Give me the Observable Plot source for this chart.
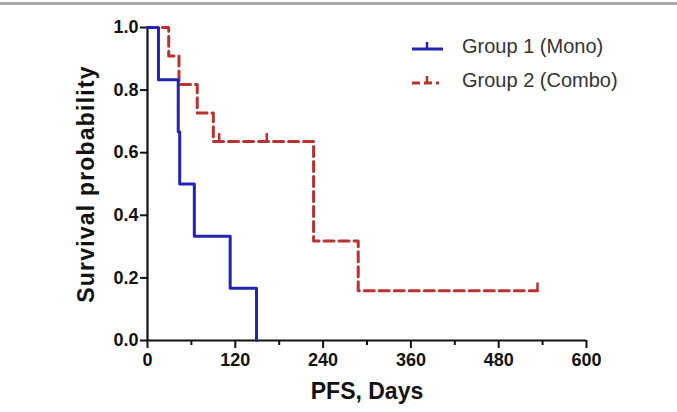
<!DOCTYPE html>
<html>
<head>
<meta charset="utf-8">
<script src="https://cdn.jsdelivr.net/npm/d3@7"></script>
<script src="https://cdn.jsdelivr.net/npm/@observablehq/plot@0.6"></script>
<style>
  html, body { margin: 0; padding: 0; background: #fff; }
  #wrap { position: relative; width: 677px; height: 412px; overflow: hidden; font-family: "Liberation Sans", Arial, sans-serif; }
  #topline { position: absolute; left: 0; top: 2px; width: 677px; height: 3px; background: #a9a9a9; }
  #legend { position: absolute; left: 410px; top: 29px; }
  .row { display: flex; align-items: center; height: 34px; }
  .row span { font-size: 20px; color: #333; margin-left: 18px; }
</style>
</head>
<body>
<div id="wrap">
  <div id="topline"></div>
  <div id="chart"></div>
  <div id="legend"></div>
</div>
<script>
// Group 1 (Mono) Kaplan–Meier steps
const g1Days = [0, 15, 42, 44, 64, 113, 149];
const g1Surv = [1.0, 0.833, 0.667, 0.5, 0.333, 0.167, 0.0];
// Group 2 (Combo) Kaplan–Meier steps
const g2Days = [0, 29, 43, 68, 90, 227, 288, 533];
const g2Surv = [1.0, 0.909, 0.818, 0.727, 0.636, 0.318, 0.159, 0.159];
// Group 2 censoring marks
const g2CensorDays = [98, 163, 533];
const g2CensorSurv = [0.636, 0.636, 0.159];

const seriesNames = ["Group 1 (Mono)", "Group 2 (Combo)"];
const xTicks = [0, 120, 240, 360, 480, 600];
const xMinorTicks = [60, 180, 300, 420, 540];
const yTicks = [0, 0.2, 0.4, 0.6, 0.8, 1.0];
const xLabel = "PFS, Days";
const yLabel = "Survival probability";

const BLUE = "#2424b4";
const RED = "#b83232";

const g1 = g1Days.map((t, i) => ({t, s: g1Surv[i]}));
const g2 = g2Days.map((t, i) => ({t, s: g2Surv[i]}));
const cens = g2CensorDays.map((t, i) => ({t, s: g2CensorSurv[i]}));

const chart = Plot.plot({
  width: 677,
  height: 412,
  marginLeft: 147,
  marginRight: 91,
  marginTop: 27,
  marginBottom: 72,
  style: {fontFamily: "'Liberation Sans', Arial, sans-serif", fontWeight: "bold", color: "#111", background: "transparent"},
  x: {domain: [0, 600]},
  y: {domain: [0, 1]},
  marks: [
    Plot.axisY({ticks: yTicks, tickFormat: d3.format(".1f"), tickSize: 7, tickPadding: 2, fontSize: 18, strokeWidth: 2, label: null}),
    Plot.axisX({ticks: xTicks, tickFormat: d3.format("d"), tickSize: 8, tickPadding: 5, fontSize: 18, strokeWidth: 2, label: null}),
    Plot.axisX({ticks: xMinorTicks, tickFormat: () => "", tickSize: 5, strokeWidth: 2, label: null}),
    Plot.ruleX([0], {strokeWidth: 2.2, stroke: "#111"}),
    Plot.ruleY([0], {strokeWidth: 2.2, stroke: "#111"}),
    Plot.line(g2, {x: "t", y: "s", curve: "step-after", stroke: RED, strokeWidth: 3, strokeDasharray: "10,5"}),
    Plot.ruleX(cens, {x: "t", y1: "s", y2: d => d.s + 0.025, stroke: RED, strokeWidth: 2.5}),
    Plot.line(g1, {x: "t", y: "s", curve: "step-after", stroke: BLUE, strokeWidth: 3}),
    Plot.text([xLabel], {frameAnchor: "bottom", dy: 58, fontSize: 23, fill: "#111"}),
    Plot.text([yLabel], {frameAnchor: "left", textAnchor: "middle", rotate: -90, dx: -61, fontSize: 23, fill: "#111"})
  ]
});
document.getElementById("chart").appendChild(chart);
// letter spacing for the rotated y title
d3.select(chart).selectAll("text").filter(function() { return this.textContent === yLabel; }).style("letter-spacing", "1.2px");

// Legend
const colors = [BLUE, RED];
const dashes = [null, "8,4,8,4,3,4"];
const legend = d3.select("#legend");
seriesNames.forEach((name, i) => {
  const row = legend.append("div").attr("class", "row");
  const svg = row.append("svg").attr("width", 34).attr("height", 16);
  svg.append("line").attr("x1", 2).attr("x2", 33).attr("y1", 11).attr("y2", 11)
    .attr("stroke", colors[i]).attr("stroke-width", 3).attr("stroke-dasharray", dashes[i]);
  svg.append("line").attr("x1", 17).attr("x2", 17).attr("y1", 11).attr("y2", 4)
    .attr("stroke", colors[i]).attr("stroke-width", 2.5);
  row.append("span").text(name);
});
</script>
</body>
</html>
